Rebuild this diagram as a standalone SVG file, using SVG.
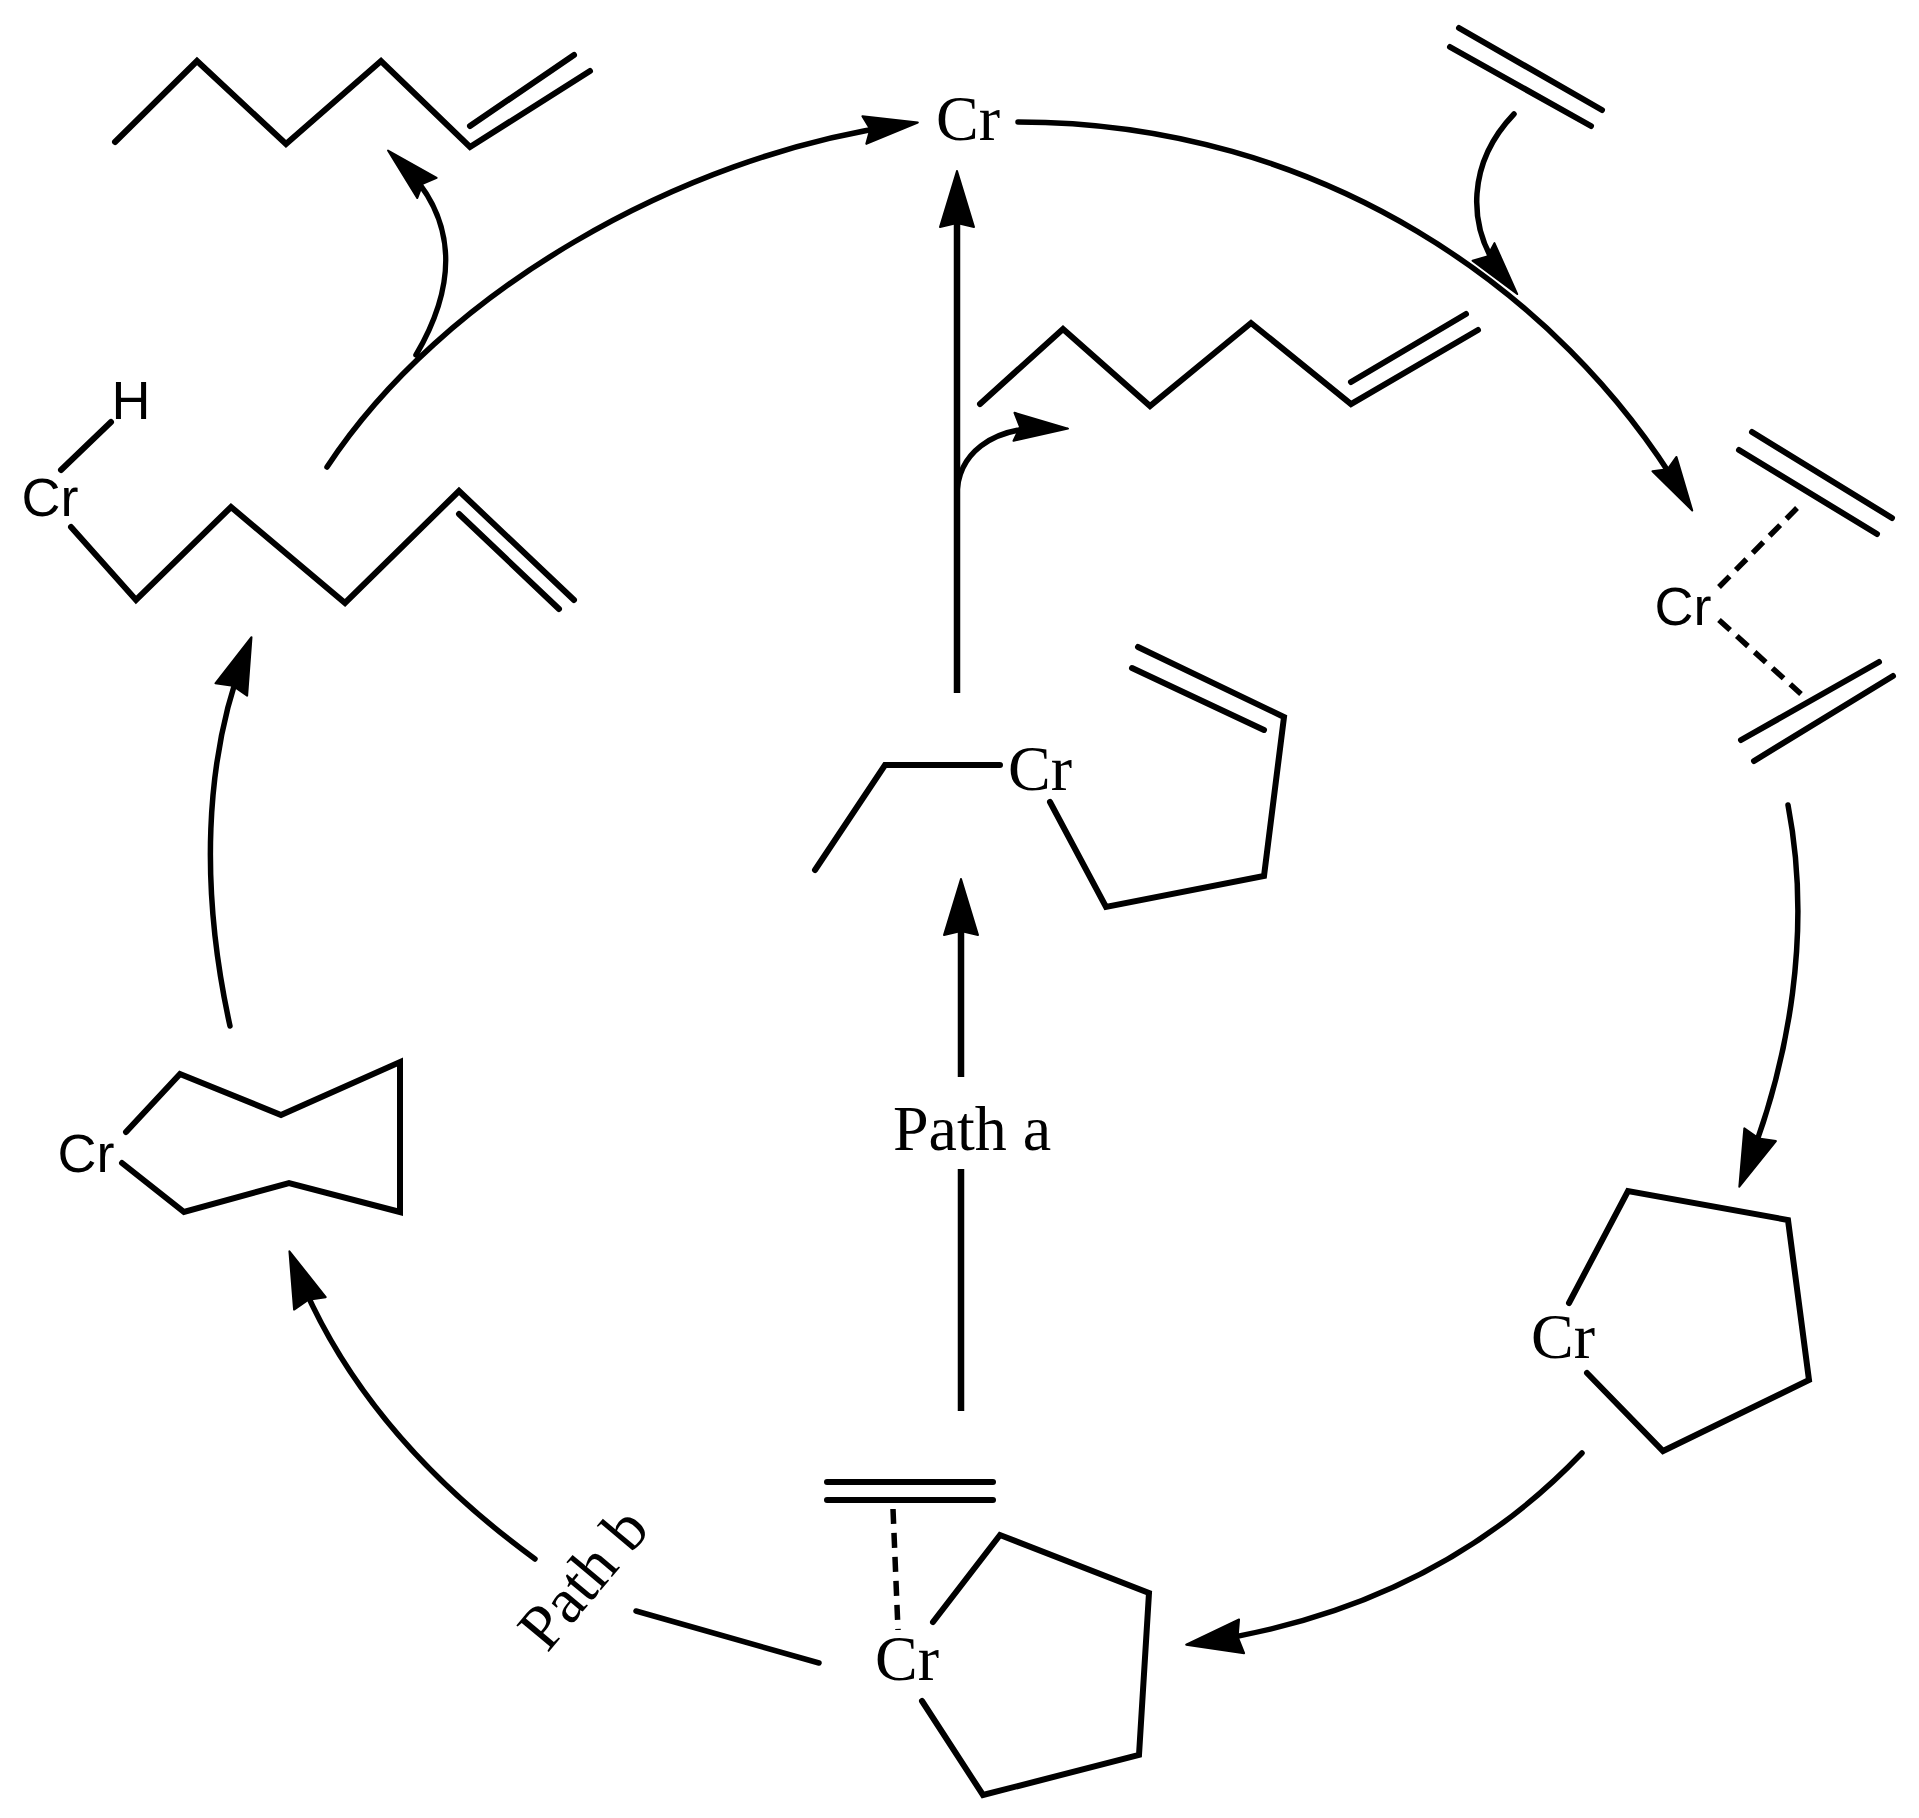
<svg xmlns="http://www.w3.org/2000/svg" width="1919" height="1818" viewBox="0 0 1919 1818">
<style>
.b{fill:none;stroke:#000;stroke-width:6;stroke-linecap:round;stroke-linejoin:miter}
.a{fill:none;stroke:#000;stroke-width:5.5;stroke-linecap:round}
.v{fill:none;stroke:#000;stroke-width:6.5;stroke-linecap:butt}
.s{fill:none;stroke:#000;stroke-width:5.5;stroke-linecap:butt;stroke-dasharray:15 9}
.se{font-family:"Liberation Serif",serif;font-size:64px;fill:#000;text-anchor:middle}
.sa{font-family:"Liberation Sans",sans-serif;font-size:54px;fill:#000;text-anchor:middle}
</style>
<defs>
<marker id="big" markerUnits="userSpaceOnUse" markerWidth="120" markerHeight="60" viewBox="-60 -30 120 60" refX="0" refY="0" orient="auto" overflow="visible"><polygon points="18,0 -38,-17 -34,0 -38,17" fill="#000" stroke="#000" stroke-width="2" stroke-linejoin="round"/></marker>
<marker id="med" markerUnits="userSpaceOnUse" markerWidth="120" markerHeight="60" viewBox="-60 -30 120 60" refX="0" refY="0" orient="auto" overflow="visible"><polygon points="18,0 -36,-14 -30,0 -36,14" fill="#000" stroke="#000" stroke-width="2" stroke-linejoin="round"/></marker>
</defs>
<rect width="1919" height="1818" fill="#fff"/>
<g id="connectors">
<path class="a" marker-end="url(#med)" d="M327 467C442 292 680 156 900 125"/>
<path class="a" marker-end="url(#med)" d="M1018 122C1320 122 1560 290 1683 495"/>
<path class="a" marker-end="url(#med)" d="M1514 114C1470 160 1462 225 1506 280"/>
<path class="a" marker-end="url(#med)" d="M416 355C460 280 455 215 401 163"/>
<path class="v" marker-end="url(#big)" d="M957 693V189"/>
<path class="a" marker-end="url(#med)" d="M957 496C957 455 990 426 1050 428"/>
<path class="v" marker-end="url(#big)" d="M961 1077V897"/>
<path class="v" d="M961 1169V1411"/>
<path class="a" d="M636 1611L819 1663"/>
<path class="a" marker-end="url(#big)" d="M535 1559C420 1475 340 1380 296 1268"/>
<path class="a" marker-end="url(#big)" d="M230 1026C200 890 204 760 245 654"/>
<path class="a" marker-end="url(#big)" d="M1788 805C1812 930 1790 1060 1746 1170"/>
<path class="a" marker-end="url(#big)" d="M1582 1453C1480 1560 1350 1620 1204 1642"/>
</g>
<g id="hexene-top"><polyline class="b" points="115,142 197,61 286,144 381,61 470,147 590,71"/><line class="b" x1="470" y1="126" x2="574" y2="55"/></g>
<g id="cr-top"><text class="se" x="968" y="140">Cr</text></g>
<g id="ethylene-top"><line class="b" x1="1459" y1="28" x2="1602" y2="110"/><line class="b" x1="1450" y1="47" x2="1591" y2="126"/></g>
<g id="heptene"><polyline class="b" points="980,404 1063,329 1150,406 1251,323 1351,404 1478,330"/><line class="b" x1="1351" y1="382" x2="1466" y2="314"/></g>
<g id="cr-middle"><polyline class="b" points="815,870 885,765 1000,765"/><polyline class="b" points="1050,802 1106,907 1264,876 1284,717 1138,647"/><line class="b" x1="1264" y1="730" x2="1132" y2="668"/><text class="se" x="1040" y="790">Cr</text></g>
<g id="path-a-label"><text class="se" x="972" y="1150">Path a</text></g>
<g id="cr-bottom"><line class="b" x1="827" y1="1482" x2="993" y2="1482"/><line class="b" x1="827" y1="1500" x2="993" y2="1500"/><line class="s" x1="893" y1="1509" x2="898" y2="1630"/><polyline class="b" points="933,1622 1000,1535 1149,1593 1139,1755 983,1795 922,1701"/><text class="se" x="907" y="1680">Cr</text></g>
<g id="path-b-label"><text class="se" transform="translate(584 1579) rotate(-50)" x="0" y="20">Path b</text></g>
<g id="cr-left"><polyline class="b" points="126,1132 180,1074 281,1115 400,1062 400,1212 289,1183 184,1212 122,1163"/><text class="sa" x="86" y="1172">Cr</text></g>
<g id="cr-h-hexene"><line class="b" x1="61" y1="470" x2="111" y2="422"/><polyline class="b" points="71,527 136,600 231,507 345,603 459,491 574,600"/><line class="b" x1="459" y1="514" x2="559" y2="609"/><text class="sa" x="131" y="419">H</text><text class="sa" x="50" y="516">Cr</text></g>
<g id="cr-right"><line class="s" x1="1719" y1="587" x2="1801" y2="504"/><line class="s" x1="1719" y1="620" x2="1801" y2="694"/><line class="b" x1="1752" y1="432" x2="1892" y2="518"/><line class="b" x1="1739" y1="450" x2="1877" y2="534"/><line class="b" x1="1741" y1="740" x2="1879" y2="662"/><line class="b" x1="1754" y1="761" x2="1893" y2="676"/><text class="sa" x="1683" y="625">Cr</text></g>
<g id="cr-ring-right"><polyline class="b" points="1569,1303 1628,1191 1788,1220 1809,1380 1663,1451 1587,1373"/><text class="se" x="1563" y="1358">Cr</text></g>
</svg>
